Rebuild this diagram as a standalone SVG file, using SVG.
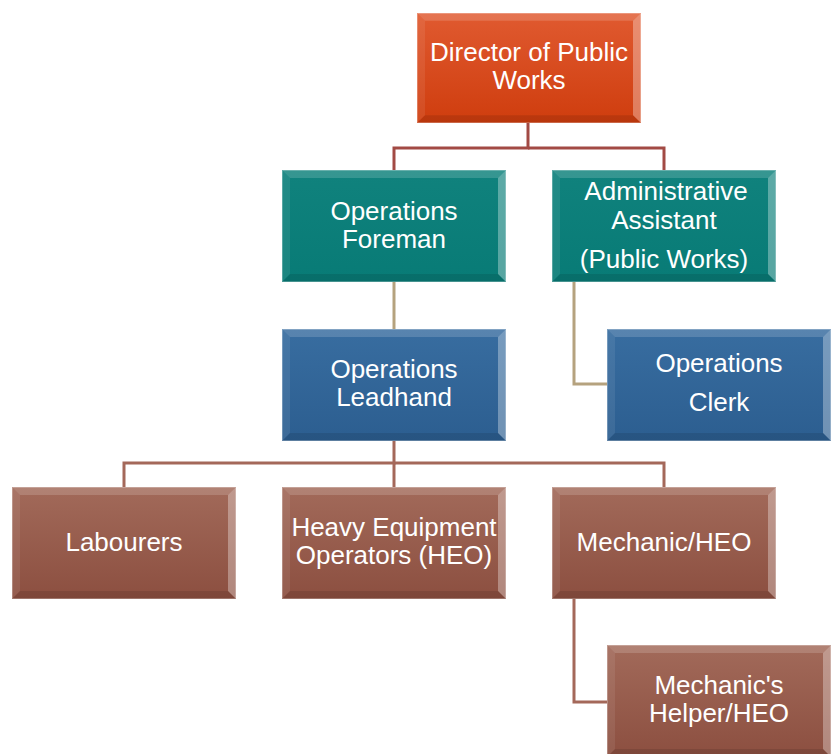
<svg xmlns="http://www.w3.org/2000/svg" width="833" height="754" viewBox="0 0 833 754">
<style>
.lbl{font-family:"Liberation Sans",Arial,sans-serif;font-size:26px;fill:#fff;text-anchor:middle}
.c1{fill:none;stroke:#A24A44;stroke-width:3}
.c2{fill:none;stroke:#B5A27E;stroke-width:3}
.c3{fill:none;stroke:#A4685A;stroke-width:3}
.bt{fill:#fff;fill-opacity:0.16}
.bl{fill:#fff;fill-opacity:0.08}
.br{fill:#fff;fill-opacity:0.32}
.bb{fill:#000;fill-opacity:0.1}
.edge{fill:none;stroke:#fff;stroke-opacity:0.25;stroke-width:1}
</style>
<defs>
<linearGradient id="gRed" x1="0" y1="0" x2="0" y2="1"><stop offset="0" stop-color="#E05A30"/><stop offset="1" stop-color="#CF3D0E"/></linearGradient>
<linearGradient id="gTeal" x1="0" y1="0" x2="0" y2="1"><stop offset="0" stop-color="#10827D"/><stop offset="1" stop-color="#087B76"/></linearGradient>
<linearGradient id="gBlue" x1="0" y1="0" x2="0" y2="1"><stop offset="0" stop-color="#386DA0"/><stop offset="1" stop-color="#2C5E90"/></linearGradient>
<linearGradient id="gBrown" x1="0" y1="0" x2="0" y2="1"><stop offset="0" stop-color="#A26A5A"/><stop offset="1" stop-color="#8C4F40"/></linearGradient>
<g id="bevel">
<polygon class="bt" points="0,0 224,0 216,8 8,8"/>
<polygon class="bl" points="0,0 8,8 8,104 0,112"/>
<polygon class="br" points="224,0 224,112 216,104 216,8"/>
<polygon class="bb" points="0,112 224,112 216,104 8,104"/>
<rect class="edge" x="0.5" y="0.5" width="223" height="111"/>
</g>
</defs>
<rect width="833" height="754" fill="#fff"/>
<g id="connectors">
<polyline class="c1" points="528,123 528,148 394,148 394,170"/>
<polyline class="c1" points="528,148 664,148 664,170"/>
<polyline class="c2" points="394,282 394,329"/>
<polyline class="c2" points="574,282 574,384 607,384"/>
<polyline class="c3" points="394,441 394,463 124,463 124,487"/>
<polyline class="c3" points="394,463 664,463 664,487"/>
<polyline class="c3" points="394,463 394,487"/>
<polyline class="c3" points="574,599 574,702 607,702"/>
</g>
<g id="director">
<rect x="417" y="13" width="224" height="110" fill="url(#gRed)"/>
<use href="#bevel" transform="translate(417,13) scale(1,0.982)"/>
<text class="lbl" x="529" y="61">Director of Public</text>
<text class="lbl" x="529" y="89">Works</text>
</g>
<g id="foreman">
<rect x="282" y="170" width="224" height="112" fill="url(#gTeal)"/>
<use href="#bevel" x="282" y="170"/>
<text class="lbl" x="394" y="220">Operations</text>
<text class="lbl" x="394" y="248">Foreman</text>
</g>
<g id="admin">
<rect x="552" y="170" width="224" height="112" fill="url(#gTeal)"/>
<use href="#bevel" x="552" y="170"/>
<text class="lbl" x="666" y="200">Administrative</text>
<text class="lbl" x="664" y="229">Assistant</text>
<text class="lbl" x="664" y="268">(Public Works)</text>
</g>
<g id="leadhand">
<rect x="282" y="329" width="224" height="112" fill="url(#gBlue)"/>
<use href="#bevel" x="282" y="329"/>
<text class="lbl" x="394" y="378">Operations</text>
<text class="lbl" x="394" y="406">Leadhand</text>
</g>
<g id="clerk">
<rect x="607" y="329" width="224" height="112" fill="url(#gBlue)"/>
<use href="#bevel" x="607" y="329"/>
<text class="lbl" x="719" y="372">Operations</text>
<text class="lbl" x="719" y="411">Clerk</text>
</g>
<g id="labourers">
<rect x="12" y="487" width="224" height="112" fill="url(#gBrown)"/>
<use href="#bevel" x="12" y="487"/>
<text class="lbl" x="124" y="551">Labourers</text>
</g>
<g id="heo">
<rect x="282" y="487" width="224" height="112" fill="url(#gBrown)"/>
<use href="#bevel" x="282" y="487"/>
<text class="lbl" x="394" y="536">Heavy Equipment</text>
<text class="lbl" x="394" y="564">Operators (HEO)</text>
</g>
<g id="mechanic">
<rect x="552" y="487" width="224" height="112" fill="url(#gBrown)"/>
<use href="#bevel" x="552" y="487"/>
<text class="lbl" x="664" y="551">Mechanic/HEO</text>
</g>
<g id="helper">
<rect x="607" y="645" width="224" height="112" fill="url(#gBrown)"/>
<use href="#bevel" x="607" y="645"/>
<text class="lbl" x="719" y="694">Mechanic's</text>
<text class="lbl" x="719" y="722">Helper/HEO</text>
</g>
</svg>
